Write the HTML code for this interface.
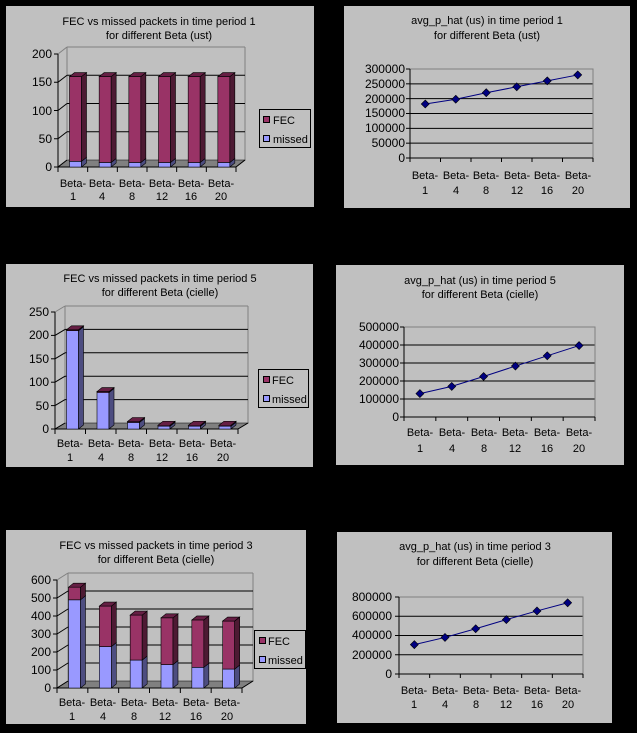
<!DOCTYPE html>
<html><head><meta charset="utf-8"><style>
html,body{margin:0;padding:0;background:#000;}
svg{display:block;}
text{font-family:"Liberation Sans",Arial,sans-serif;font-size:11px;fill:#000;}
.r{text-anchor:end}.m{text-anchor:middle}
.b{font-size:12px}
</style></head><body>
<svg id="s" width="637" height="733" viewBox="0 0 637 733" xmlns="http://www.w3.org/2000/svg">
<rect width="637" height="733" fill="#000"/>
<rect x="6" y="6" width="308" height="201" fill="#c0c0c0"/>
<rect x="344" y="6" width="286" height="202" fill="#c0c0c0"/>
<rect x="6" y="264" width="307" height="203" fill="#c0c0c0"/>
<rect x="336" y="265" width="288" height="200" fill="#c0c0c0"/>
<rect x="6" y="530" width="300" height="194" fill="#c0c0c0"/>
<rect x="337" y="532" width="275" height="191" fill="#c0c0c0"/>
<g id="g"></g>
<!-- P1 text -->
<text class="m" x="159" y="25">FEC vs missed packets in time period 1</text>
<text class="m" x="159" y="39">for different Beta (ust)</text>
<text class="r b" x="52" y="58">200</text><text class="r b" x="52" y="86">150</text><text class="r b" x="52" y="115">100</text><text class="r b" x="52" y="143">50</text><text class="r b" x="52" y="171">0</text>
<text class="m" x="73" y="187">Beta-</text><text class="m" x="102" y="187">Beta-</text><text class="m" x="132" y="187">Beta-</text><text class="m" x="162" y="187">Beta-</text><text class="m" x="191" y="187">Beta-</text><text class="m" x="221" y="187">Beta-</text>
<text class="m" x="73" y="200">1</text><text class="m" x="102" y="200">4</text><text class="m" x="132" y="200">8</text><text class="m" x="162" y="200">12</text><text class="m" x="191" y="200">16</text><text class="m" x="221" y="200">20</text>
<rect x="259.5" y="109.5" width="51" height="38" fill="#c0c0c0" stroke="#000"/>
<rect x="263.5" y="116.5" width="6" height="6" fill="#993366" stroke="#000"/><text x="273" y="124">FEC</text>
<rect x="263.5" y="135.5" width="6" height="6" fill="#9999ff" stroke="#000"/><text x="273" y="143">missed</text>
<!-- P3 text -->
<text class="m" x="160" y="282">FEC vs missed packets in time period 5</text>
<text class="m" x="160" y="296">for different Beta (cielle)</text>
<text class="r b" x="49" y="316">250</text><text class="r b" x="49" y="339">200</text><text class="r b" x="49" y="363">150</text><text class="r b" x="49" y="386">100</text><text class="r b" x="49" y="410">50</text><text class="r b" x="49" y="433">0</text>
<text class="m" x="70" y="447">Beta-</text><text class="m" x="101" y="447">Beta-</text><text class="m" x="131" y="447">Beta-</text><text class="m" x="162" y="447">Beta-</text><text class="m" x="192" y="447">Beta-</text><text class="m" x="223" y="447">Beta-</text>
<text class="m" x="70" y="461">1</text><text class="m" x="101" y="461">4</text><text class="m" x="131" y="461">8</text><text class="m" x="162" y="461">12</text><text class="m" x="192" y="461">16</text><text class="m" x="223" y="461">20</text>
<rect x="258.5" y="369.5" width="50" height="38" fill="#c0c0c0" stroke="#000"/>
<rect x="263.5" y="376.5" width="6" height="6" fill="#993366" stroke="#000"/><text x="272" y="384">FEC</text>
<rect x="263.5" y="395.5" width="6" height="6" fill="#9999ff" stroke="#000"/><text x="272" y="403">missed</text>
<!-- P5 text -->
<text class="m" x="156" y="549">FEC vs missed packets in time period 3</text>
<text class="m" x="156" y="563">for different Beta (cielle)</text>
<text class="r b" x="51" y="584">600</text><text class="r b" x="51" y="602">500</text><text class="r b" x="51" y="620">400</text><text class="r b" x="51" y="638">300</text><text class="r b" x="51" y="656">200</text><text class="r b" x="51" y="674">100</text><text class="r b" x="51" y="692">0</text>
<text class="m" x="72" y="706">Beta-</text><text class="m" x="103" y="706">Beta-</text><text class="m" x="134" y="706">Beta-</text><text class="m" x="165" y="706">Beta-</text><text class="m" x="196" y="706">Beta-</text><text class="m" x="227" y="706">Beta-</text>
<text class="m" x="72" y="720">1</text><text class="m" x="103" y="720">4</text><text class="m" x="134" y="720">8</text><text class="m" x="165" y="720">12</text><text class="m" x="196" y="720">16</text><text class="m" x="227" y="720">20</text>
<rect x="254.5" y="630.5" width="51" height="38" fill="#c0c0c0" stroke="#000"/>
<rect x="259.5" y="637.5" width="6" height="6" fill="#993366" stroke="#000"/><text x="268" y="645">FEC</text>
<rect x="259.5" y="656.5" width="6" height="6" fill="#9999ff" stroke="#000"/><text x="268" y="664">missed</text>
<!-- P2 text -->
<text class="m" x="487" y="24">avg_p_hat (us) in time period 1</text>
<text class="m" x="487" y="39">for different Beta (ust)</text>
<text class="r b" x="405" y="73">300000</text><text class="r b" x="405" y="88">250000</text><text class="r b" x="405" y="103">200000</text><text class="r b" x="405" y="117">150000</text><text class="r b" x="405" y="132">100000</text><text class="r b" x="405" y="147">50000</text><text class="r b" x="405" y="162">0</text>
<text class="m" x="425" y="179">Beta-</text><text class="m" x="456" y="179">Beta-</text><text class="m" x="486" y="179">Beta-</text><text class="m" x="517" y="179">Beta-</text><text class="m" x="547" y="179">Beta-</text><text class="m" x="578" y="179">Beta-</text>
<text class="m" x="425" y="194">1</text><text class="m" x="456" y="194">4</text><text class="m" x="486" y="194">8</text><text class="m" x="517" y="194">12</text><text class="m" x="547" y="194">16</text><text class="m" x="578" y="194">20</text>
<!-- P4 text -->
<text class="m" x="480" y="284">avg_p_hat (us)  in time period 5</text>
<text class="m" x="480" y="298">for different Beta (cielle)</text>
<text class="r b" x="399" y="331">500000</text><text class="r b" x="399" y="349">400000</text><text class="r b" x="399" y="367">300000</text><text class="r b" x="399" y="385">200000</text><text class="r b" x="399" y="403">100000</text><text class="r b" x="399" y="421">0</text>
<text class="m" x="420" y="436">Beta-</text><text class="m" x="452" y="436">Beta-</text><text class="m" x="484" y="436">Beta-</text><text class="m" x="515" y="436">Beta-</text><text class="m" x="547" y="436">Beta-</text><text class="m" x="579" y="436">Beta-</text>
<text class="m" x="420" y="452">1</text><text class="m" x="452" y="452">4</text><text class="m" x="484" y="452">8</text><text class="m" x="515" y="452">12</text><text class="m" x="547" y="452">16</text><text class="m" x="579" y="452">20</text>
<!-- P6 text -->
<text class="m" x="475" y="550">avg_p_hat (us) in time period 3</text>
<text class="m" x="475" y="565">for different Beta (cielle)</text>
<text class="r b" x="392" y="601">800000</text><text class="r b" x="392" y="620">600000</text><text class="r b" x="392" y="639">400000</text><text class="r b" x="392" y="659">200000</text><text class="r b" x="392" y="678">0</text>
<text class="m" x="414" y="694">Beta-</text><text class="m" x="445" y="694">Beta-</text><text class="m" x="476" y="694">Beta-</text><text class="m" x="506" y="694">Beta-</text><text class="m" x="537" y="694">Beta-</text><text class="m" x="568" y="694">Beta-</text>
<text class="m" x="414" y="708">1</text><text class="m" x="445" y="708">4</text><text class="m" x="476" y="708">8</text><text class="m" x="506" y="708">12</text><text class="m" x="537" y="708">16</text><text class="m" x="568" y="708">20</text>
</svg>
<script>
var g=document.getElementById('g'),NS='http://www.w3.org/2000/svg';
function el(t,a){var e=document.createElementNS(NS,t);for(var k in a)e.setAttribute(k,a[k]);g.appendChild(e);return e;}
function ln(x1,y1,x2,y2,c){el('line',{x1:x1,y1:y1,x2:x2,y2:y2,stroke:c||'#000','stroke-width':1});}
function poly(p,f){el('polygon',{points:p.map(function(q){return q[0]+','+q[1]}).join(' '),fill:f,stroke:'#000','stroke-width':0.6});}
function bar3d(ax,ay,ax2,wdx,wdy,topY,vmax,step,data){
 var s=(ay-topY)/vmax,cw=(ax2-ax)/6;
 poly([[ax,ay],[ax2,ay],[ax2+wdx,ay+wdy],[ax+wdx,ay+wdy]],'#808080');
 ln(ax+wdx,topY+wdy,ax2+wdx,topY+wdy,'#808080');ln(ax2+wdx,topY+wdy,ax2+wdx,ay+wdy,'#808080');
 ln(ax+wdx,topY+wdy,ax+wdx,ay+wdy,'#808080');
 for(var v=0;v<=vmax;v+=step){var y=ay-v*s;
  if(v>0&&v<vmax)ln(ax+wdx,y+wdy,ax2+wdx,y+wdy);
  ln(ax,y,ax+wdx,y+wdy,v==vmax?'#808080':'#000');ln(ax-4,y,ax,y);}
 ln(ax,topY,ax,ay);ln(ax,ay,ax2,ay);ln(ax2,ay,ax2+wdx,ay+wdy);
 for(var i=0;i<=6;i++)ln(ax+cw*i,ay,ax+cw*i,ay+5);
 var dx=5,dy=-4,w=12;
 data.forEach(function(d,i){var x=ax+cw*i+11.5,ym=ay-d[0]*s,yt=ay-(d[0]+d[1])*s;
  poly([[x,ym],[x+w,ym],[x+w,ay],[x,ay]],'#9999ff');
  poly([[x+w,ym],[x+w+dx,ym+dy],[x+w+dx,ay+dy],[x+w,ay]],'#4d4d80');
  if(d[1]>0){poly([[x,yt],[x+w,yt],[x+w,ym],[x,ym]],'#993366');
   poly([[x+w,yt],[x+w+dx,yt+dy],[x+w+dx,ym+dy],[x+w,ym]],'#4d1a33');
   poly([[x,yt],[x+dx,yt+dy],[x+w+dx,yt+dy],[x+w,yt]],'#661f44');}
  else poly([[x,ym],[x+dx,ym+dy],[x+w+dx,ym+dy],[x+w,ym]],'#6666aa');});
}
bar3d(58,167,236,9,-7,54,200,50,[[10,150],[8,152],[8,152],[8,152],[8,152],[8,152]]);
bar3d(55,429,238,10,-6,312,250,50,[[210,2],[78,2],[14,2],[6,2],[6,2],[6,2]]);
bar3d(57,688,242,11,-7,580,600,100,[[490,70],[230,225],[155,250],[130,260],[115,263],[105,267]]);
function line(x1,x2,y1,y2,vmax,step,data){
 var s=(y2-y1)/vmax,cw=(x2-x1)/6;
 for(var v=step;v<vmax;v+=step){var y=y2-v*s;ln(x1,y,x2,y);}
 el('rect',{x:x1,y:y1,width:x2-x1,height:y2-y1,fill:'none',stroke:'#808080'});
 ln(x1,y1,x1,y2);ln(x1,y2,x2,y2);
 for(var v=0;v<=vmax;v+=step){var y=y2-v*s;ln(x1-4,y,x1,y);}
 for(var i=0;i<=6;i++)ln(x1+cw*i,y2,x1+cw*i,y2+4);
 var pts=data.map(function(d,i){return [x1+cw*(i+0.5),y2-d*s]});
 el('polyline',{points:pts.map(function(p){return p.join(',')}).join(' '),fill:'none',stroke:'#000080','stroke-width':1});
 pts.forEach(function(p){poly([[p[0],p[1]-4],[p[0]+4,p[1]],[p[0],p[1]+4],[p[0]-4,p[1]]],'#000080');});
}
line(410,593,69,158,300000,50000,[182000,198000,220000,240000,260000,280000]);
line(404,595,327,417,500000,100000,[130000,170000,225000,283000,340000,397000]);
line(399,583,597,674,800000,200000,[305000,380000,470000,565000,655000,740000]);
</script>
</body></html>
